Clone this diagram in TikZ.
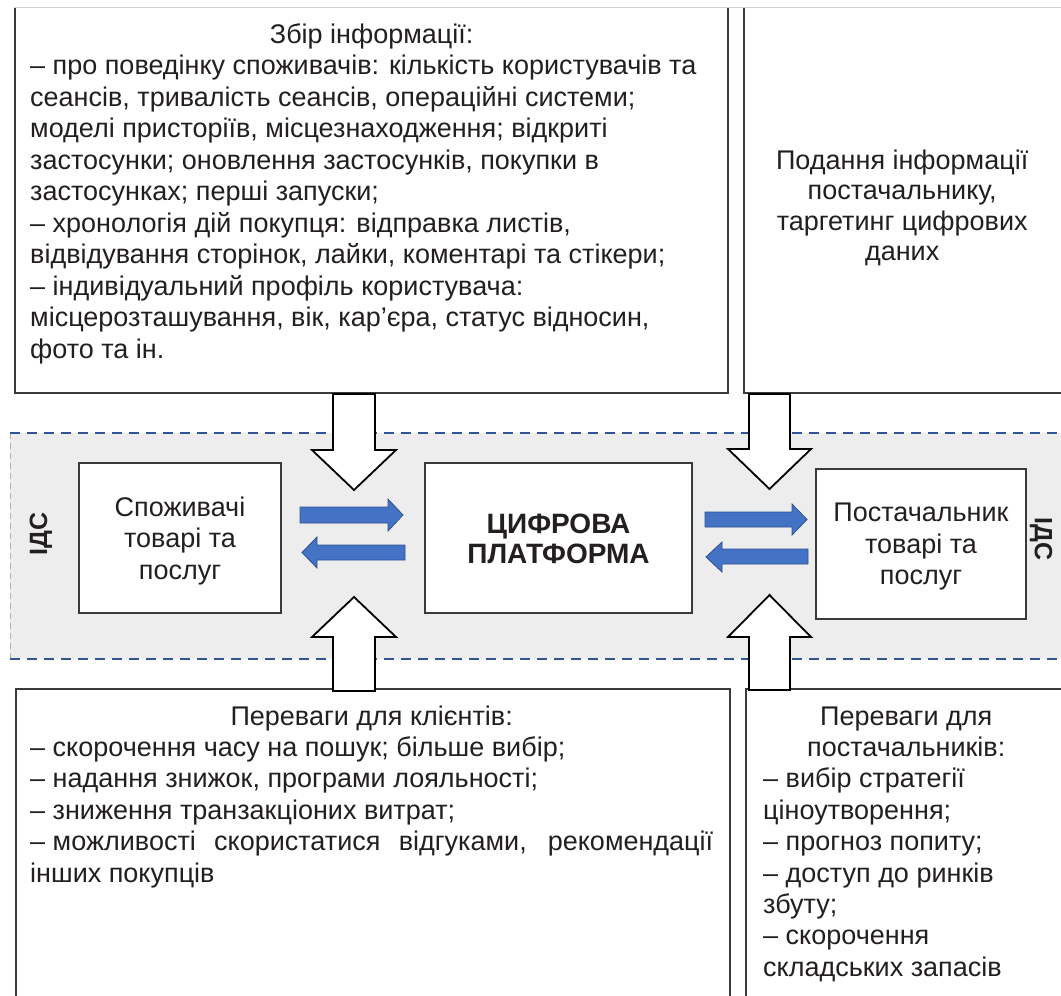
\documentclass[tikz,border=0pt]{standalone}
\usepackage{fontspec}
\setmainfont{Liberation Sans}
\definecolor{bandgray}{HTML}{EDEDED}
\definecolor{bandblue}{HTML}{2F5597}
\definecolor{arrowblue}{HTML}{4472C4}
\definecolor{arrowedge}{HTML}{2F528F}
\definecolor{txt}{HTML}{231F20}
\definecolor{boxline}{HTML}{3A3A3A}
\begin{document}
\begin{tikzpicture}[x=1pt,y=-1pt,
  boxside/.style={draw=boxline, line width=1.4pt},
  midbox/.style={draw=boxline, line width=1.2pt, fill=white, inner sep=0pt},
  midtext/.style={align=center, text=txt, inner sep=0pt, font=\fontsize{27}{31.5}\selectfont},
  bigarrow/.style={draw=black, fill=white, line width=1.8pt, line join=miter},
  bluearrow/.style={draw=arrowedge, fill=arrowblue, line width=0.8pt, line join=miter},
  txtnode/.style={anchor=base west, inner sep=0pt, text=txt},
  bandline/.style={draw=bandblue, line width=1.8pt, dash pattern=on 10pt off 7pt}
]
\useasboundingbox (0,0) rectangle (1061,996);
\fill[white] (0,0) rectangle (1061,996);

% band
\fill[bandgray] (10,433) rectangle (1061,659);
\draw[gray!60, line width=0.5pt, dash pattern=on 6pt off 4pt] (10,433) -- (10,659);
\draw[bandline] (10,433) -- (1061,433);
\draw[bandline] (10,659) -- (1061,659);

% top line
\draw[gray!35, line width=1pt] (14,7) -- (1061,7);

% top-left box
\draw[boxside] (15,8) -- (15,393) -- (728,393) -- (728,8);
% top-right box
\draw[boxside] (1061,393) -- (744,393) -- (744,8);
% bottom-left box
\draw[boxside] (16,996) -- (16,689) -- (730,689) -- (730,996);
% bottom-right box
\draw[boxside] (746,996) -- (746,689) -- (1061,689);

% middle boxes
\node[midbox, minimum width=202pt, minimum height=150pt] (cons) at (180,538) {};
\node[midtext] (consT) at (180,541) {Споживачі\\товарі та\\послуг};
\node[midbox, minimum width=267pt, minimum height=150pt] (plat) at (558.5,538) {};
\node[midtext, font=\fontsize{28}{30.5}\selectfont\bfseries] (platT) at (558.5,539) {ЦИФРОВА\\ПЛАТФОРМА};
\node[midbox, minimum width=210pt, minimum height=150pt] (supp) at (921,544) {};
\node[midtext] (suppT) at (921,547) {Постачальник\\товарі та\\послуг};

% IDS labels
\node[rotate=90, font=\fontsize{25}{25}\selectfont\bfseries, text=txt, inner sep=0pt] (ids1) at (41,534) {ІДС};
\node[rotate=-90, font=\fontsize{25}{25}\selectfont\bfseries, text=txt, inner sep=0pt] (ids2) at (1041,539) {ІДС};

% top-left text
\node[txtnode] (info) at (30,43) {\begin{minipage}[t]{683pt}\fontsize{27}{31.5}\selectfont
\centerline{Збір інформації:}
\raggedright
– про поведінку споживачів: кількість користувачів та\\
сеансів, тривалість сеансів, операційні системи;\\
моделі присторіїв, місцезнаходження; відкриті\\
застосунки; оновлення застосунків, покупки в\\
застосунках; перші запуски;\\
– хронологія дій покупця: відправка листів,\\
відвідування сторінок, лайки, коментарі та стікери;\\
– індивідуальний профіль користувача:\\
місцерозташування, вік, кар’єра, статус відносин,\\
фото та ін.
\end{minipage}};

% top-right text
\node[txtnode] (give) at (759,169) {\begin{minipage}[t]{286pt}\fontsize{27}{30.5}\selectfont\centering
Подання інформації\\
постачальнику,\\
таргетинг цифрових\\
даних
\end{minipage}};

% bottom-left text
\node[txtnode] (clients) at (30,725) {\begin{minipage}[t]{683pt}\fontsize{27}{31.4}\selectfont
\centerline{Переваги для клієнтів:}
\raggedright
– скорочення часу на пошук; більше вибір;\\
– надання знижок, програми лояльності;\\
– зниження транзакціоних витрат;\\
\makebox[683pt][s]{–\hspace{0.28em}можливості скористатися відгуками, рекомендації}\\
інших покупців
\end{minipage}};

% bottom-right text
\node[txtnode] (suppliers) at (763,725) {\begin{minipage}[t]{286pt}\fontsize{27}{31.4}\selectfont
\centerline{Переваги для}
\centerline{постачальників:}
\raggedright
– вибір стратегії\\
ціноутворення;\\
– прогноз попиту;\\
– доступ до ринків\\
збуту;\\
– скорочення\\
складських запасів
\end{minipage}};

% big white arrows
\draw[bigarrow] (333,394) -- (375,394) -- (375,450) -- (396,450) -- (354,490) -- (312,450) -- (333,450) -- cycle;
\draw[bigarrow] (333,691) -- (375,691) -- (375,637) -- (396,637) -- (354,597) -- (312,637) -- (333,637) -- cycle;
\draw[bigarrow] (749,394) -- (790,394) -- (790,449) -- (811,449) -- (769.5,489) -- (728,449) -- (749,449) -- cycle;
\draw[bigarrow] (749,690) -- (790,690) -- (790,637) -- (811,637) -- (769.5,595) -- (728,637) -- (749,637) -- cycle;

% blue arrows
\draw[bluearrow] (300,507) -- (388,507) -- (388,499) -- (403,515) -- (388,531) -- (388,523) -- (300,523) -- cycle;
\draw[bluearrow] (405,545) -- (317,545) -- (317,537) -- (302,552.5) -- (317,568) -- (317,560) -- (405,560) -- cycle;
\draw[bluearrow] (705,512) -- (792,512) -- (792,504) -- (807,519.5) -- (792,535) -- (792,527) -- (705,527) -- cycle;
\draw[bluearrow] (808,549) -- (722,549) -- (722,542) -- (706,557) -- (722,572) -- (722,564) -- (808,564) -- cycle;
\end{tikzpicture}
\end{document}
